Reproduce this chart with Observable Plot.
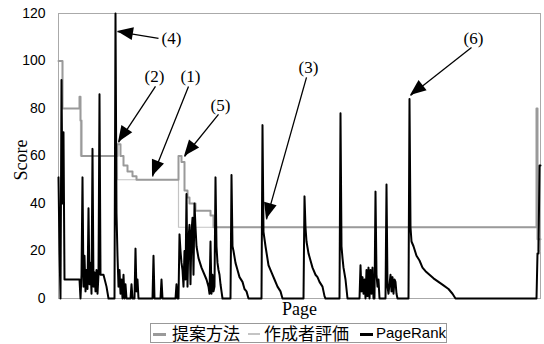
<!DOCTYPE html>
<html><head><meta charset="utf-8">
<script src="https://cdn.jsdelivr.net/npm/d3@7"></script>
<script src="https://cdn.jsdelivr.net/npm/@observablehq/plot@0.6"></script>
<style>
body{margin:0;background:#fff;width:544px;height:344px;overflow:hidden;position:relative;}
#chart svg{display:block;}
#legend{position:absolute;left:150px;top:323px;width:297px;height:20px;border:1px solid #999;box-sizing:border-box;background:#fff;}
#legend .d{position:absolute;}
#legend .t{position:absolute;top:-2px;line-height:22px;color:#000;white-space:nowrap;}
</style></head><body><div id="chart"></div><div id="legend"></div>
<script>
// ---- data ----
const seriesNames = ["提案方法", "作成者評価", "PageRank"];
const yTicks = [0, 20, 40, 60, 80, 100, 120];

// 提案方法 (step values)
const proposedPage  = [0, 4, 21, 22, 23, 59, 62, 65, 69, 74, 78, 120, 123, 126, 129, 131, 137, 152, 155, 478, 479, 482];
const proposedScore = [100, 80, 85, 75, 60, 65, 60, 56, 53.5, 51.5, 50, 60, 57.5, 45.5, 42.5, 40, 37, 35, 30, 80, 25, 25];

// 作成者評価 (step values)
const authorPage  = [0, 4, 22, 59, 120, 479, 482];
const authorScore = [100, 80, 60, 50, 30, 20, 20];

// PageRank
const prPage = [0,1,2,3,4,5,6,21,22,23,24,25,26,27,28,29,30,31,32,33,34,35,36,37,38,39,40,41,42,45,48,50,
  56,57,58,59,60,61,62,63,64,65,66,67,68,72,73,74,76,77,78,79,80,94,95,96,102,103,104,
  117,118,119,120,121,122,123,124,125,126,127,128,129,130,131,132,133,134,135,136,137,138,140,143,146,148,150,151,
  152,153,154,155,156,157,158,159,160,161,162,163,164,172,173,174,175,177,179,181,184,186,188,190,
  203,204,205,207,210,213,216,219,222,224,245,246,247,248,250,252,254,257,259,261,264,266,267,
  281,282,283,284,285,287,289,301,302,303,304,305,306,307,308,309,310,311,312,313,314,315,316,317,318,319,320,321,
  327,328,329,330,331,332,333,334,335,336,337,338,339,350,351,352,353,355,358,361,364,367,371,375,380,385,390,394,397,
  478,479,480,481,482];
const prScore = [51,20,0,92,40,70,8,8,0,10,51,5,18,3,12,4,38,6,15,2,63,5,11,3,12,2,10,86,10,10,5,0,
  0,120,36,18,5,12,2,8,0,10,0,6,0,0,6,0,0,21,3,8,0,0,18,0,0,8,0,
  0,6,0,0,27,20,15,12,5,20,8,44,5,25,31,6,28,34,10,40,30,22,17,13,10,8,5,2,
  24,2,10,3,5,51,22,15,12,10,6,3,0,0,52,22,20,15,12,9,7,4,3,0,
  0,73,28,22,14,11,8,5,3,0,0,43,30,24,19,16,13,10,9,7,5,1,0,
  0,78,22,17,13,8,0,0,14,3,9,2,8,0,12,1,13,0,12,2,13,0,0,45,10,5,8,0,
  0,48,5,2,6,10,3,9,2,8,7,2,0,0,84,30,24,22,18,16,13,11.5,10,8.5,7,5.5,4,2,0,
  0,19,19,56,56];

// annotations
const annLabel   = ["(1)", "(2)", "(3)", "(4)", "(5)", "(6)"];
const annLabelP  = [132, 96, 250, 113, 162, 415];
const annLabelV  = [93.5, 93.5, 97.3, 109.5, 81.3, 109.5];
const annTailP   = [130, 97, 248, 100, 160, 413];
const annTailV   = [89.3, 89.3, 93.1, 109.5, 77.5, 105.7];
const annTipP    = [94, 60, 208, 59, 126, 352];
const annTipV    = [51.4, 65.7, 33.3, 112.4, 59.8, 85.5];

// ---- tables ----
const proposed = proposedPage.map((p, i) => ({page: p, score: proposedScore[i]}));
const author = authorPage.map((p, i) => ({page: p, score: authorScore[i]}));
const pr = prPage.map((p, i) => ({page: p, score: prScore[i]}));
const ann = annLabel.map((l, i) => ({label: l, lp: annLabelP[i], lv: annLabelV[i],
  tp: annTailP[i], tv: annTailV[i], hp: annTipP[i], hv: annTipV[i]}));

const colors = {"提案方法": "#9a9a9a", "作成者評価": "#c4c4c4", "PageRank": "#000"};

function arrowHeads(index, scales) {
  const g = d3.create("svg:g").attr("fill", "#000");
  const sx = scales.x, sy = scales.y;
  for (const a of ann) {
    const x1 = sx(a.tp), y1 = sy(a.tv), x2 = sx(a.hp), y2 = sy(a.hv);
    const dx = x2 - x1, dy = y2 - y1, len = Math.hypot(dx, dy);
    const ux = dx / len, uy = dy / len, L = 16, Wd = 6.5;
    const bx = x2 - ux * L, by = y2 - uy * L;
    g.append("path").attr("d",
      `M${x2},${y2}L${bx - uy * Wd},${by + ux * Wd}L${bx + uy * Wd},${by - ux * Wd}Z`);
  }
  return g.node();
}

const chart = Plot.plot({
  width: 544, height: 321,
  marginLeft: 58, marginRight: 4, marginTop: 13, marginBottom: 23,
  x: {domain: [0, 482], axis: null},
  y: {domain: [0, 120], axis: null},
  style: {fontFamily: "'Liberation Sans', Arial, sans-serif", fontSize: "14px", background: "#fff", color: "#000"},
  marks: [
    Plot.frame({stroke: "#aaa"}),
    Plot.axisY({ticks: yTicks, tickSize: 0, tickPadding: 13, fontSize: 14, fill: "#000"}),
    Plot.line(author, {x: "page", y: "score", curve: "step-after", stroke: colors["作成者評価"], strokeWidth: 1.2}),
    Plot.line(proposed, {x: "page", y: "score", curve: "step-after", stroke: colors["提案方法"], strokeWidth: 2}),
    Plot.line(pr, {x: "page", y: "score", stroke: colors["PageRank"], strokeWidth: 2}),
    Plot.link(ann, {x1: "tp", y1: "tv", x2: "hp", y2: "hv", stroke: "#000", strokeWidth: 1.3}),
    arrowHeads,
    Plot.text(ann, {x: "lp", y: "lv", text: "label", fontFamily: "'Liberation Serif', 'Times New Roman', serif", fontSize: 17, fill: "#000"}),
    Plot.text(["Score"], {text: d => d, frameAnchor: "left", textAnchor: "middle", dx: -37, dy: 4, rotate: -90, fontFamily: "'Liberation Serif', serif", fontSize: 18, fill: "#000"}),
    Plot.text(["Page"], {text: d => d, frameAnchor: "bottom", lineAnchor: "top", dy: 4, fontFamily: "'Liberation Serif', serif", fontSize: 18, fill: "#000"})
  ]
});
document.getElementById("chart").append(chart);

// legend
const leg = document.getElementById("legend");
const items = [
  {name: seriesNames[0], dl: 2, dw: 13, dh: 3, tl: 21, font: "17px 'Noto Sans CJK JP', sans-serif"},
  {name: seriesNames[1], dl: 97, dw: 12, dh: 2, tl: 113, font: "17px 'Noto Sans CJK JP', sans-serif"},
  {name: seriesNames[2], dl: 209, dw: 13, dh: 3, tl: 225, font: "15px 'Liberation Sans', Arial, sans-serif"}
];
for (const it of items) {
  const d = document.createElement("div");
  d.className = "d";
  d.style.cssText = `left:${it.dl}px;top:${10 - it.dh / 2}px;width:${it.dw}px;height:${it.dh}px;background:${colors[it.name]}`;
  leg.append(d);
  const t = document.createElement("div");
  t.className = "t";
  t.style.left = it.tl + "px";
  t.style.font = it.font;
  t.style.lineHeight = "22px";
  t.textContent = it.name;
  leg.append(t);
}
</script>
</body></html>
